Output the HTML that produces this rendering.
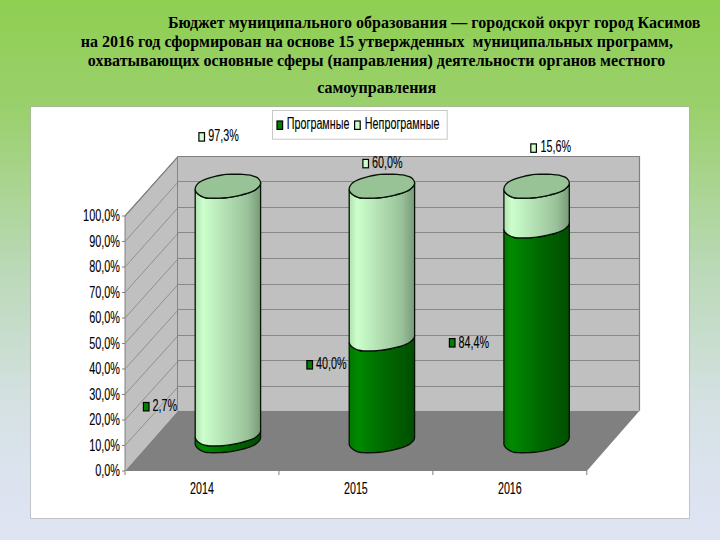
<!DOCTYPE html>
<html><head><meta charset="utf-8"><style>
html,body{margin:0;padding:0;width:720px;height:540px;overflow:hidden;background:#dfe4f3}
svg{display:block}
text{font-family:"Liberation Sans",sans-serif}
.t text{font-family:"Liberation Serif",serif;font-weight:bold}
</style></head><body>
<svg width="720" height="540" viewBox="0 0 720 540">
<defs>
<linearGradient id="gl" x1="0" y1="0" x2="1" y2="0">
<stop offset="0" stop-color="#b0e0b0"/><stop offset="0.12" stop-color="#ccffcc"/><stop offset="0.5" stop-color="#b0dcb0"/><stop offset="0.8" stop-color="#9ac29a"/><stop offset="1" stop-color="#789a78"/>
</linearGradient>
<linearGradient id="gd" x1="0" y1="0" x2="1" y2="0">
<stop offset="0" stop-color="#007800"/><stop offset="0.12" stop-color="#008a00"/><stop offset="0.5" stop-color="#006c00"/><stop offset="1" stop-color="#004e00"/>
</linearGradient>
<linearGradient id="bg" x1="0" y1="0" x2="0" y2="1">
<stop offset="0" stop-color="#8fcf52"/><stop offset="0.2" stop-color="#9ad06c"/><stop offset="0.5" stop-color="#bbd9b8"/><stop offset="0.75" stop-color="#d5e1e3"/><stop offset="0.87" stop-color="#dbe3ee"/><stop offset="1" stop-color="#dfe4f3"/>
</linearGradient>
</defs>
<rect x="0" y="0" width="720" height="540" fill="url(#bg)"/>
<g class="t" font-size="16" fill="#000">
<text x="168" y="27.5" textLength="532.5" lengthAdjust="spacing">Бюджет муниципального образования — городской округ город Касимов</text>
<text x="376.8" y="46.7" text-anchor="middle" xml:space="preserve">на 2016 год сформирован на основе 15 утвержденных  муниципальных программ,</text>
<text x="376.6" y="65.5" text-anchor="middle">охватывающих основные сферы (направления) деятельности органов местного</text>
<text x="376.7" y="92.5" text-anchor="middle">самоуправления</text>
</g>
<rect x="30.5" y="106.5" width="659" height="412" fill="#fff" stroke="rgba(0,0,0,0.19)" stroke-width="1"/><rect x="178.0" y="156.5" width="461.5" height="254.2" fill="#c0c0c0"/><polygon points="125.0,216.0 178.0,156.5 178.0,410.7 125.0,471.0" fill="#c0c0c0"/><g stroke="#888" stroke-width="1"><line x1="178.0" y1="181.50" x2="639.5" y2="181.50"/><line x1="178.0" y1="207.50" x2="639.5" y2="207.50"/><line x1="178.0" y1="232.50" x2="639.5" y2="232.50"/><line x1="178.0" y1="258.50" x2="639.5" y2="258.50"/><line x1="178.0" y1="284.50" x2="639.5" y2="284.50"/><line x1="178.0" y1="309.50" x2="639.5" y2="309.50"/><line x1="178.0" y1="335.50" x2="639.5" y2="335.50"/><line x1="178.0" y1="360.50" x2="639.5" y2="360.50"/><line x1="178.0" y1="386.50" x2="639.5" y2="386.50"/></g><g stroke="#8a8a8a" stroke-width="0.9"><line x1="125.0" y1="216.00" x2="178.0" y2="156.50"/><line x1="125.0" y1="241.50" x2="178.0" y2="182.10"/><line x1="125.0" y1="267.00" x2="178.0" y2="207.70"/><line x1="125.0" y1="292.50" x2="178.0" y2="233.30"/><line x1="125.0" y1="318.00" x2="178.0" y2="258.90"/><line x1="125.0" y1="343.50" x2="178.0" y2="284.50"/><line x1="125.0" y1="369.00" x2="178.0" y2="310.10"/><line x1="125.0" y1="394.50" x2="178.0" y2="335.70"/><line x1="125.0" y1="420.00" x2="178.0" y2="361.30"/><line x1="125.0" y1="445.50" x2="178.0" y2="386.90"/></g><polyline points="125.0,216.0 178.0,156.5 639.5,156.5 639.5,410.7" fill="none" stroke="#808080" stroke-width="1.2"/><line x1="177.5" y1="156.5" x2="177.5" y2="410.7" stroke="#848484" stroke-width="1"/><polygon points="125.0,471.0 586.8,471.0 639.5,410.7 178.0,410.7" fill="#808080"/><g stroke="#808080" stroke-width="1"><line x1="125.0" y1="216.0" x2="125.0" y2="471.0"/><line x1="122.0" y1="216.00" x2="125.0" y2="216.00"/><line x1="122.0" y1="241.50" x2="125.0" y2="241.50"/><line x1="122.0" y1="267.00" x2="125.0" y2="267.00"/><line x1="122.0" y1="292.50" x2="125.0" y2="292.50"/><line x1="122.0" y1="318.00" x2="125.0" y2="318.00"/><line x1="122.0" y1="343.50" x2="125.0" y2="343.50"/><line x1="122.0" y1="369.00" x2="125.0" y2="369.00"/><line x1="122.0" y1="394.50" x2="125.0" y2="394.50"/><line x1="122.0" y1="420.00" x2="125.0" y2="420.00"/><line x1="122.0" y1="445.50" x2="125.0" y2="445.50"/><line x1="122.0" y1="471.00" x2="125.0" y2="471.00"/><line x1="125.00" y1="471.0" x2="125.00" y2="475.0"/><line x1="278.93" y1="471.0" x2="278.93" y2="475.0"/><line x1="432.87" y1="471.0" x2="432.87" y2="475.0"/><line x1="586.80" y1="471.0" x2="586.80" y2="475.0"/></g><path d="M260.60,430.58 L260.60,437.45 C260.53,437.75 260.48,438.62 260.20,439.25 C259.92,439.88 259.70,440.40 258.90,441.25 C258.10,442.10 256.73,443.47 255.40,444.35 C254.07,445.23 252.28,445.97 250.90,446.55 C249.52,447.13 248.60,447.40 247.10,447.85 C245.60,448.30 243.68,448.80 241.90,449.25 C240.12,449.70 238.27,450.17 236.40,450.55 C234.53,450.93 232.53,451.27 230.70,451.55 C228.87,451.83 227.20,452.07 225.40,452.25 C223.60,452.43 221.65,452.57 219.90,452.65 C218.15,452.73 216.65,452.74 214.90,452.75 C213.15,452.76 211.10,452.82 209.40,452.70 C207.70,452.58 206.17,452.44 204.70,452.05 C203.23,451.66 201.82,451.02 200.60,450.35 C199.38,449.68 198.22,448.82 197.40,448.05 C196.58,447.28 196.07,446.38 195.70,445.75 C195.33,445.12 195.28,444.50 195.20,444.25 L195.20,437.38 C195.28,437.63 195.33,438.25 195.70,438.88 C196.07,439.51 196.58,440.41 197.40,441.18 C198.22,441.95 199.38,442.81 200.60,443.48 C201.82,444.15 203.23,444.79 204.70,445.18 C206.17,445.57 207.70,445.71 209.40,445.83 C211.10,445.95 213.15,445.89 214.90,445.88 C216.65,445.87 218.15,445.86 219.90,445.78 C221.65,445.70 223.60,445.56 225.40,445.38 C227.20,445.20 228.87,444.96 230.70,444.68 C232.53,444.40 234.53,444.06 236.40,443.68 C238.27,443.30 240.12,442.83 241.90,442.38 C243.68,441.93 245.60,441.43 247.10,440.98 C248.60,440.53 249.52,440.26 250.90,439.68 C252.28,439.10 254.07,438.36 255.40,437.48 C256.73,436.60 258.10,435.23 258.90,434.38 C259.70,433.53 259.92,433.01 260.20,432.38 C260.48,431.75 260.53,430.88 260.60,430.58 Z" fill="url(#gd)" stroke="#061206" stroke-width="1.3" stroke-linejoin="round"/><path d="M260.60,182.95 L260.60,430.58 C260.53,430.88 260.48,431.75 260.20,432.38 C259.92,433.01 259.70,433.53 258.90,434.38 C258.10,435.23 256.73,436.60 255.40,437.48 C254.07,438.36 252.28,439.10 250.90,439.68 C249.52,440.26 248.60,440.53 247.10,440.98 C245.60,441.43 243.68,441.93 241.90,442.38 C240.12,442.83 238.27,443.30 236.40,443.68 C234.53,444.06 232.53,444.40 230.70,444.68 C228.87,444.96 227.20,445.20 225.40,445.38 C223.60,445.56 221.65,445.70 219.90,445.78 C218.15,445.86 216.65,445.87 214.90,445.88 C213.15,445.89 211.10,445.95 209.40,445.83 C207.70,445.71 206.17,445.57 204.70,445.18 C203.23,444.79 201.82,444.15 200.60,443.48 C199.38,442.81 198.22,441.95 197.40,441.18 C196.58,440.41 196.07,439.51 195.70,438.88 C195.33,438.25 195.28,437.63 195.20,437.38 L195.20,189.75 C195.28,190.00 195.33,190.62 195.70,191.25 C196.07,191.88 196.58,192.78 197.40,193.55 C198.22,194.32 199.38,195.18 200.60,195.85 C201.82,196.52 203.23,197.16 204.70,197.55 C206.17,197.94 207.70,198.08 209.40,198.20 C211.10,198.32 213.15,198.26 214.90,198.25 C216.65,198.24 218.15,198.23 219.90,198.15 C221.65,198.07 223.60,197.93 225.40,197.75 C227.20,197.57 228.87,197.33 230.70,197.05 C232.53,196.77 234.53,196.43 236.40,196.05 C238.27,195.67 240.12,195.20 241.90,194.75 C243.68,194.30 245.60,193.80 247.10,193.35 C248.60,192.90 249.52,192.63 250.90,192.05 C252.28,191.47 254.07,190.73 255.40,189.85 C256.73,188.97 258.10,187.60 258.90,186.75 C259.70,185.90 259.92,185.38 260.20,184.75 C260.48,184.12 260.53,183.25 260.60,182.95 Z" fill="url(#gl)" stroke="#061206" stroke-width="1.3" stroke-linejoin="round"/><path d="M195.20,189.75 C195.18,189.05 195.23,188.00 195.60,187.05 C195.97,186.10 196.68,184.90 197.40,184.05 C198.12,183.20 198.90,182.60 199.90,181.95 C200.90,181.30 201.77,180.83 203.40,180.15 C205.03,179.47 207.73,178.48 209.70,177.85 C211.67,177.22 213.35,176.78 215.20,176.35 C217.05,175.92 218.95,175.57 220.80,175.25 C222.65,174.93 224.45,174.62 226.30,174.45 C228.15,174.28 229.97,174.28 231.90,174.25 C233.83,174.22 236.07,174.23 237.90,174.25 C239.73,174.27 241.32,174.25 242.90,174.35 C244.48,174.45 245.90,174.63 247.40,174.85 C248.90,175.07 250.32,175.23 251.90,175.65 C253.48,176.07 255.60,176.58 256.90,177.35 C258.20,178.12 259.08,179.32 259.70,180.25 C260.32,181.18 260.52,182.20 260.60,182.95 C260.68,183.70 260.48,184.12 260.20,184.75 C259.92,185.38 259.70,185.90 258.90,186.75 C258.10,187.60 256.73,188.97 255.40,189.85 C254.07,190.73 252.28,191.47 250.90,192.05 C249.52,192.63 248.60,192.90 247.10,193.35 C245.60,193.80 243.68,194.30 241.90,194.75 C240.12,195.20 238.27,195.67 236.40,196.05 C234.53,196.43 232.53,196.77 230.70,197.05 C228.87,197.33 227.20,197.57 225.40,197.75 C223.60,197.93 221.65,198.07 219.90,198.15 C218.15,198.23 216.65,198.24 214.90,198.25 C213.15,198.26 211.10,198.32 209.40,198.20 C207.70,198.08 206.17,197.94 204.70,197.55 C203.23,197.16 201.82,196.52 200.60,195.85 C199.38,195.18 198.22,194.32 197.40,193.55 C196.58,192.78 196.07,191.88 195.70,191.25 C195.33,190.62 195.22,190.45 195.20,189.75 Z" fill="#97c397" stroke="#061206" stroke-width="1.3"/><path d="M414.60,335.65 L414.60,437.45 C414.53,437.75 414.48,438.62 414.20,439.25 C413.92,439.88 413.70,440.40 412.90,441.25 C412.10,442.10 410.73,443.47 409.40,444.35 C408.07,445.23 406.28,445.97 404.90,446.55 C403.52,447.13 402.60,447.40 401.10,447.85 C399.60,448.30 397.68,448.80 395.90,449.25 C394.12,449.70 392.27,450.17 390.40,450.55 C388.53,450.93 386.53,451.27 384.70,451.55 C382.87,451.83 381.20,452.07 379.40,452.25 C377.60,452.43 375.65,452.57 373.90,452.65 C372.15,452.73 370.65,452.74 368.90,452.75 C367.15,452.76 365.10,452.82 363.40,452.70 C361.70,452.58 360.17,452.44 358.70,452.05 C357.23,451.66 355.82,451.02 354.60,450.35 C353.38,449.68 352.22,448.82 351.40,448.05 C350.58,447.28 350.07,446.38 349.70,445.75 C349.33,445.12 349.28,444.50 349.20,444.25 L349.20,342.45 C349.28,342.70 349.33,343.32 349.70,343.95 C350.07,344.58 350.58,345.48 351.40,346.25 C352.22,347.02 353.38,347.88 354.60,348.55 C355.82,349.22 357.23,349.86 358.70,350.25 C360.17,350.64 361.70,350.78 363.40,350.90 C365.10,351.02 367.15,350.96 368.90,350.95 C370.65,350.94 372.15,350.93 373.90,350.85 C375.65,350.77 377.60,350.63 379.40,350.45 C381.20,350.27 382.87,350.03 384.70,349.75 C386.53,349.47 388.53,349.13 390.40,348.75 C392.27,348.37 394.12,347.90 395.90,347.45 C397.68,347.00 399.60,346.50 401.10,346.05 C402.60,345.60 403.52,345.33 404.90,344.75 C406.28,344.17 408.07,343.43 409.40,342.55 C410.73,341.67 412.10,340.30 412.90,339.45 C413.70,338.60 413.92,338.08 414.20,337.45 C414.48,336.82 414.53,335.95 414.60,335.65 Z" fill="url(#gd)" stroke="#061206" stroke-width="1.3" stroke-linejoin="round"/><path d="M414.60,182.95 L414.60,335.65 C414.53,335.95 414.48,336.82 414.20,337.45 C413.92,338.08 413.70,338.60 412.90,339.45 C412.10,340.30 410.73,341.67 409.40,342.55 C408.07,343.43 406.28,344.17 404.90,344.75 C403.52,345.33 402.60,345.60 401.10,346.05 C399.60,346.50 397.68,347.00 395.90,347.45 C394.12,347.90 392.27,348.37 390.40,348.75 C388.53,349.13 386.53,349.47 384.70,349.75 C382.87,350.03 381.20,350.27 379.40,350.45 C377.60,350.63 375.65,350.77 373.90,350.85 C372.15,350.93 370.65,350.94 368.90,350.95 C367.15,350.96 365.10,351.02 363.40,350.90 C361.70,350.78 360.17,350.64 358.70,350.25 C357.23,349.86 355.82,349.22 354.60,348.55 C353.38,347.88 352.22,347.02 351.40,346.25 C350.58,345.48 350.07,344.58 349.70,343.95 C349.33,343.32 349.28,342.70 349.20,342.45 L349.20,189.75 C349.28,190.00 349.33,190.62 349.70,191.25 C350.07,191.88 350.58,192.78 351.40,193.55 C352.22,194.32 353.38,195.18 354.60,195.85 C355.82,196.52 357.23,197.16 358.70,197.55 C360.17,197.94 361.70,198.08 363.40,198.20 C365.10,198.32 367.15,198.26 368.90,198.25 C370.65,198.24 372.15,198.23 373.90,198.15 C375.65,198.07 377.60,197.93 379.40,197.75 C381.20,197.57 382.87,197.33 384.70,197.05 C386.53,196.77 388.53,196.43 390.40,196.05 C392.27,195.67 394.12,195.20 395.90,194.75 C397.68,194.30 399.60,193.80 401.10,193.35 C402.60,192.90 403.52,192.63 404.90,192.05 C406.28,191.47 408.07,190.73 409.40,189.85 C410.73,188.97 412.10,187.60 412.90,186.75 C413.70,185.90 413.92,185.38 414.20,184.75 C414.48,184.12 414.53,183.25 414.60,182.95 Z" fill="url(#gl)" stroke="#061206" stroke-width="1.3" stroke-linejoin="round"/><path d="M349.20,189.75 C349.18,189.05 349.23,188.00 349.60,187.05 C349.97,186.10 350.68,184.90 351.40,184.05 C352.12,183.20 352.90,182.60 353.90,181.95 C354.90,181.30 355.77,180.83 357.40,180.15 C359.03,179.47 361.73,178.48 363.70,177.85 C365.67,177.22 367.35,176.78 369.20,176.35 C371.05,175.92 372.95,175.57 374.80,175.25 C376.65,174.93 378.45,174.62 380.30,174.45 C382.15,174.28 383.97,174.28 385.90,174.25 C387.83,174.22 390.07,174.23 391.90,174.25 C393.73,174.27 395.32,174.25 396.90,174.35 C398.48,174.45 399.90,174.63 401.40,174.85 C402.90,175.07 404.32,175.23 405.90,175.65 C407.48,176.07 409.60,176.58 410.90,177.35 C412.20,178.12 413.08,179.32 413.70,180.25 C414.32,181.18 414.52,182.20 414.60,182.95 C414.68,183.70 414.48,184.12 414.20,184.75 C413.92,185.38 413.70,185.90 412.90,186.75 C412.10,187.60 410.73,188.97 409.40,189.85 C408.07,190.73 406.28,191.47 404.90,192.05 C403.52,192.63 402.60,192.90 401.10,193.35 C399.60,193.80 397.68,194.30 395.90,194.75 C394.12,195.20 392.27,195.67 390.40,196.05 C388.53,196.43 386.53,196.77 384.70,197.05 C382.87,197.33 381.20,197.57 379.40,197.75 C377.60,197.93 375.65,198.07 373.90,198.15 C372.15,198.23 370.65,198.24 368.90,198.25 C367.15,198.26 365.10,198.32 363.40,198.20 C361.70,198.08 360.17,197.94 358.70,197.55 C357.23,197.16 355.82,196.52 354.60,195.85 C353.38,195.18 352.22,194.32 351.40,193.55 C350.58,192.78 350.07,191.88 349.70,191.25 C349.33,190.62 349.22,190.45 349.20,189.75 Z" fill="#97c397" stroke="#061206" stroke-width="1.3"/><path d="M569.30,222.65 L569.30,437.45 C569.23,437.75 569.18,438.62 568.90,439.25 C568.62,439.88 568.40,440.40 567.60,441.25 C566.80,442.10 565.43,443.47 564.10,444.35 C562.77,445.23 560.98,445.97 559.60,446.55 C558.22,447.13 557.30,447.40 555.80,447.85 C554.30,448.30 552.38,448.80 550.60,449.25 C548.82,449.70 546.97,450.17 545.10,450.55 C543.23,450.93 541.23,451.27 539.40,451.55 C537.57,451.83 535.90,452.07 534.10,452.25 C532.30,452.43 530.35,452.57 528.60,452.65 C526.85,452.73 525.35,452.74 523.60,452.75 C521.85,452.76 519.80,452.82 518.10,452.70 C516.40,452.58 514.87,452.44 513.40,452.05 C511.93,451.66 510.52,451.02 509.30,450.35 C508.08,449.68 506.92,448.82 506.10,448.05 C505.28,447.28 504.77,446.38 504.40,445.75 C504.03,445.12 503.98,444.50 503.90,444.25 L503.90,229.45 C503.98,229.70 504.03,230.32 504.40,230.95 C504.77,231.59 505.28,232.49 506.10,233.25 C506.92,234.02 508.08,234.89 509.30,235.55 C510.52,236.22 511.93,236.86 513.40,237.25 C514.87,237.64 516.40,237.79 518.10,237.90 C519.80,238.02 521.85,237.96 523.60,237.95 C525.35,237.94 526.85,237.94 528.60,237.85 C530.35,237.77 532.30,237.64 534.10,237.45 C535.90,237.27 537.57,237.04 539.40,236.75 C541.23,236.47 543.23,236.14 545.10,235.75 C546.97,235.37 548.82,234.90 550.60,234.45 C552.38,234.00 554.30,233.50 555.80,233.05 C557.30,232.60 558.22,232.34 559.60,231.75 C560.98,231.17 562.77,230.44 564.10,229.55 C565.43,228.67 566.80,227.30 567.60,226.45 C568.40,225.60 568.62,225.09 568.90,224.45 C569.18,223.82 569.23,222.95 569.30,222.65 Z" fill="url(#gd)" stroke="#061206" stroke-width="1.3" stroke-linejoin="round"/><path d="M569.30,182.95 L569.30,222.65 C569.23,222.95 569.18,223.82 568.90,224.45 C568.62,225.09 568.40,225.60 567.60,226.45 C566.80,227.30 565.43,228.67 564.10,229.55 C562.77,230.44 560.98,231.17 559.60,231.75 C558.22,232.34 557.30,232.60 555.80,233.05 C554.30,233.50 552.38,234.00 550.60,234.45 C548.82,234.90 546.97,235.37 545.10,235.75 C543.23,236.14 541.23,236.47 539.40,236.75 C537.57,237.04 535.90,237.27 534.10,237.45 C532.30,237.64 530.35,237.77 528.60,237.85 C526.85,237.94 525.35,237.94 523.60,237.95 C521.85,237.96 519.80,238.02 518.10,237.90 C516.40,237.79 514.87,237.64 513.40,237.25 C511.93,236.86 510.52,236.22 509.30,235.55 C508.08,234.89 506.92,234.02 506.10,233.25 C505.28,232.49 504.77,231.59 504.40,230.95 C504.03,230.32 503.98,229.70 503.90,229.45 L503.90,189.75 C503.98,190.00 504.03,190.62 504.40,191.25 C504.77,191.88 505.28,192.78 506.10,193.55 C506.92,194.32 508.08,195.18 509.30,195.85 C510.52,196.52 511.93,197.16 513.40,197.55 C514.87,197.94 516.40,198.08 518.10,198.20 C519.80,198.32 521.85,198.26 523.60,198.25 C525.35,198.24 526.85,198.23 528.60,198.15 C530.35,198.07 532.30,197.93 534.10,197.75 C535.90,197.57 537.57,197.33 539.40,197.05 C541.23,196.77 543.23,196.43 545.10,196.05 C546.97,195.67 548.82,195.20 550.60,194.75 C552.38,194.30 554.30,193.80 555.80,193.35 C557.30,192.90 558.22,192.63 559.60,192.05 C560.98,191.47 562.77,190.73 564.10,189.85 C565.43,188.97 566.80,187.60 567.60,186.75 C568.40,185.90 568.62,185.38 568.90,184.75 C569.18,184.12 569.23,183.25 569.30,182.95 Z" fill="url(#gl)" stroke="#061206" stroke-width="1.3" stroke-linejoin="round"/><path d="M503.90,189.75 C503.88,189.05 503.93,188.00 504.30,187.05 C504.67,186.10 505.38,184.90 506.10,184.05 C506.82,183.20 507.60,182.60 508.60,181.95 C509.60,181.30 510.47,180.83 512.10,180.15 C513.73,179.47 516.43,178.48 518.40,177.85 C520.37,177.22 522.05,176.78 523.90,176.35 C525.75,175.92 527.65,175.57 529.50,175.25 C531.35,174.93 533.15,174.62 535.00,174.45 C536.85,174.28 538.67,174.28 540.60,174.25 C542.53,174.22 544.77,174.23 546.60,174.25 C548.43,174.27 550.02,174.25 551.60,174.35 C553.18,174.45 554.60,174.63 556.10,174.85 C557.60,175.07 559.02,175.23 560.60,175.65 C562.18,176.07 564.30,176.58 565.60,177.35 C566.90,178.12 567.78,179.32 568.40,180.25 C569.02,181.18 569.22,182.20 569.30,182.95 C569.38,183.70 569.18,184.12 568.90,184.75 C568.62,185.38 568.40,185.90 567.60,186.75 C566.80,187.60 565.43,188.97 564.10,189.85 C562.77,190.73 560.98,191.47 559.60,192.05 C558.22,192.63 557.30,192.90 555.80,193.35 C554.30,193.80 552.38,194.30 550.60,194.75 C548.82,195.20 546.97,195.67 545.10,196.05 C543.23,196.43 541.23,196.77 539.40,197.05 C537.57,197.33 535.90,197.57 534.10,197.75 C532.30,197.93 530.35,198.07 528.60,198.15 C526.85,198.23 525.35,198.24 523.60,198.25 C521.85,198.26 519.80,198.32 518.10,198.20 C516.40,198.08 514.87,197.94 513.40,197.55 C511.93,197.16 510.52,196.52 509.30,195.85 C508.08,195.18 506.92,194.32 506.10,193.55 C505.28,192.78 504.77,191.88 504.40,191.25 C504.03,190.62 503.92,190.45 503.90,189.75 Z" fill="#97c397" stroke="#061206" stroke-width="1.3"/>
<rect x="272.5" y="110.5" width="174.7" height="28.7" fill="#fff" stroke="#c8c8c8" stroke-width="1"/><rect x="277" y="121" width="5.6" height="8.4" fill="#008000" stroke="#000" stroke-width="1.2"/><rect x="354.6" y="121" width="5.6" height="8.4" fill="#ccffcc" stroke="#000" stroke-width="1.2"/>
<rect x="198.90" y="132.70" width="5.6" height="8.4" fill="#ccffcc" stroke="#000" stroke-width="1.2"/><rect x="362.90" y="159.40" width="5.6" height="8.4" fill="#ccffcc" stroke="#000" stroke-width="1.2"/><rect x="530.80" y="143.90" width="5.6" height="8.4" fill="#ccffcc" stroke="#000" stroke-width="1.2"/><rect x="306.90" y="360.60" width="5.6" height="8.4" fill="#008000" stroke="#000" stroke-width="1.2"/><rect x="449.40" y="338.60" width="5.6" height="8.4" fill="#008000" stroke="#000" stroke-width="1.2"/><rect x="143.40" y="402.50" width="5.6" height="8.4" fill="#008000" stroke="#000" stroke-width="1.2"/>
<g fill="#000" stroke="#000" stroke-width="0.12"><text transform="translate(120.00,476.30) scale(0.68,1)" text-anchor="end" font-size="16">0,0%</text><text transform="translate(120.00,450.80) scale(0.68,1)" text-anchor="end" font-size="16">10,0%</text><text transform="translate(120.00,425.30) scale(0.68,1)" text-anchor="end" font-size="16">20,0%</text><text transform="translate(120.00,399.80) scale(0.68,1)" text-anchor="end" font-size="16">30,0%</text><text transform="translate(120.00,374.30) scale(0.68,1)" text-anchor="end" font-size="16">40,0%</text><text transform="translate(120.00,348.80) scale(0.68,1)" text-anchor="end" font-size="16">50,0%</text><text transform="translate(120.00,323.30) scale(0.68,1)" text-anchor="end" font-size="16">60,0%</text><text transform="translate(120.00,297.80) scale(0.68,1)" text-anchor="end" font-size="16">70,0%</text><text transform="translate(120.00,272.30) scale(0.68,1)" text-anchor="end" font-size="16">80,0%</text><text transform="translate(120.00,246.80) scale(0.68,1)" text-anchor="end" font-size="16">90,0%</text><text transform="translate(120.00,221.30) scale(0.68,1)" text-anchor="end" font-size="16">100,0%</text><text transform="translate(201.97,493.80) scale(0.667,1)" text-anchor="middle" font-size="16">2014</text><text transform="translate(355.90,493.80) scale(0.667,1)" text-anchor="middle" font-size="16">2015</text><text transform="translate(509.83,493.80) scale(0.667,1)" text-anchor="middle" font-size="16">2016</text><text transform="translate(208.20,140.80) scale(0.675,1)" text-anchor="start" font-size="16">97,3%</text><text transform="translate(372.00,167.50) scale(0.675,1)" text-anchor="start" font-size="16">60,0%</text><text transform="translate(540.50,152.30) scale(0.675,1)" text-anchor="start" font-size="16">15,6%</text><text transform="translate(316.00,368.80) scale(0.675,1)" text-anchor="start" font-size="16">40,0%</text><text transform="translate(458.50,348.00) scale(0.675,1)" text-anchor="start" font-size="16">84,4%</text><text transform="translate(152.40,410.70) scale(0.675,1)" text-anchor="start" font-size="16">2,7%</text><text transform="translate(286.80,128.60) scale(0.672,1)" text-anchor="start" font-size="16">Програмные</text><text transform="translate(364.80,128.60) scale(0.674,1)" text-anchor="start" font-size="16">Непрограмные</text></g>
</svg>
</body></html>
